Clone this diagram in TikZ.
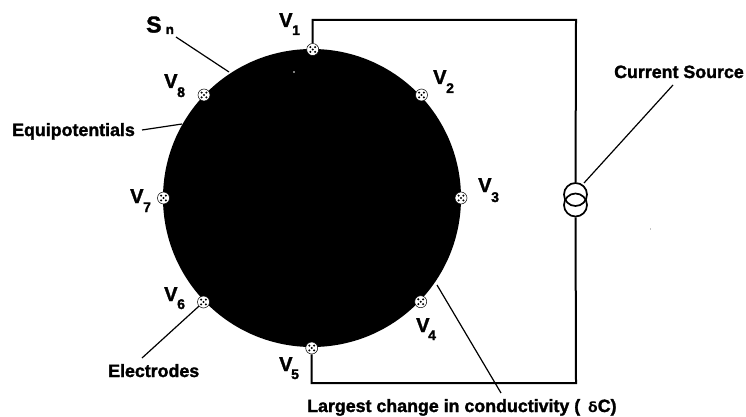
\documentclass[tikz,border=0pt]{standalone}
\usepackage{fontspec}
\setmainfont[BoldFeatures={FakeBold=1.6}]{Liberation Sans}
\tikzset{
  x=1pt,y=-1pt,
  wire/.style={line width=2pt,line join=miter},
  lead/.style={line width=1.2pt},
  srcring/.style={circle,draw=black,line width=1.7pt,minimum size=23pt,inner sep=0pt},
  lab/.style={font=\bfseries\fontsize{17.8}{19}\selectfont,inner sep=0pt,anchor=base west},
  vlab/.style={font=\bfseries\fontsize{20}{22}\selectfont,inner sep=0pt,anchor=base west},
  subv/.style={font=\bfseries\fontsize{14}{16}\selectfont,inner sep=0pt,anchor=base west},
  electrode/.style={circle,fill=white,draw=black,line width=.5pt,minimum size=12pt,inner sep=0pt,
    path picture={\foreach \a/\b in {-2.4/-2.4,2.4/-2.4,-2.4/2.4,2.4/2.4,0/0}{
      \fill[black] ([xshift=\a pt,yshift=\b pt]path picture bounding box.center) circle (1.15pt);}}}
}
\newcommand{\vl}[6]{\node[vlab] at (#1,#2) {V};\node[subv] at (#4,#5) {#3};}
\begin{document}
\begin{tikzpicture}
\useasboundingbox (0,0) rectangle (746,417);
\node[circle,fill=black,minimum size=298pt,inner sep=0pt] (disk) at (312,198) {};
\fill[white] (294,72) circle (.8pt);
\fill[black] (650.5,229) circle (.3pt);
\node[electrode] (e1) at (312.7,49.5) {};
\node[electrode] (e2) at (421.5,95) {};
\node[electrode] (e3) at (461,198) {};
\node[electrode] (e4) at (420.7,301.7) {};
\node[electrode] (e5) at (311.7,348) {};
\node[electrode] (e6) at (203.5,302) {};
\node[electrode] (e7) at (163.5,198) {};
\node[electrode] (e8) at (204,95) {};
\node[srcring] (s1) at (575.5,194.5) {};
\node[srcring] (s2) at (575.5,205) {};
\coordinate (c1) at (312.7,20);
\coordinate (c2) at (576,20);
\coordinate (c3) at (576,383);
\coordinate (c4) at (311.7,383);
\draw[wire] (e1) -- (c1) -- (c2) -- (s1);
\draw[wire] (s2) -- (c3) -- (c4) -- (e5);
\node[font=\bfseries\fontsize{23}{25}\selectfont,inner sep=0pt,anchor=base west] (sn) at (146,32.5) {S};
\node[font=\bfseries\fontsize{13.5}{15}\selectfont,inner sep=0pt,anchor=base west] (snn) at (165.5,34) {n};
\coordinate (sn0) at (176,37);
\coordinate (sn1) at (229,72);
\draw[lead] (sn0) -- (sn1);
\vl{279}{27}{1}{292}{35}{}
\vl{164}{88}{8}{177}{97}{}
\vl{433}{84}{2}{446}{93}{}
\vl{478}{192}{3}{491}{202}{}
\vl{130}{203}{7}{143}{212}{}
\vl{164}{301}{6}{177}{309}{}
\vl{416}{332}{4}{428}{340}{}
\vl{279}{371}{5}{291}{379}{}
\node[lab] (cur) at (614,78) {Current Source};
\coordinate (cur0) at (673,85);
\coordinate (cur1) at (584,183);
\draw[lead] (cur0) -- (cur1);
\node[lab] (equi) at (12,136) {Equipotentials};
\coordinate (eq0) at (142,130);
\coordinate (eq1) at (182,124);
\draw[lead] (eq0) -- (eq1);
\node[lab] (elec) at (108,377) {Electrodes};
\coordinate (el0) at (142,358);
\draw[lead] (el0) -- (e6);
\node[lab] (larg) at (307,412) {Largest change in conductivity (\hspace{8pt}{\fontspec{DejaVu Sans}\fontsize{14}{15}\selectfont δ}C)};
\coordinate (la0) at (437,285);
\coordinate (la1) at (501,393);
\draw[lead] (la0) -- (la1);
\end{tikzpicture}
\end{document}
